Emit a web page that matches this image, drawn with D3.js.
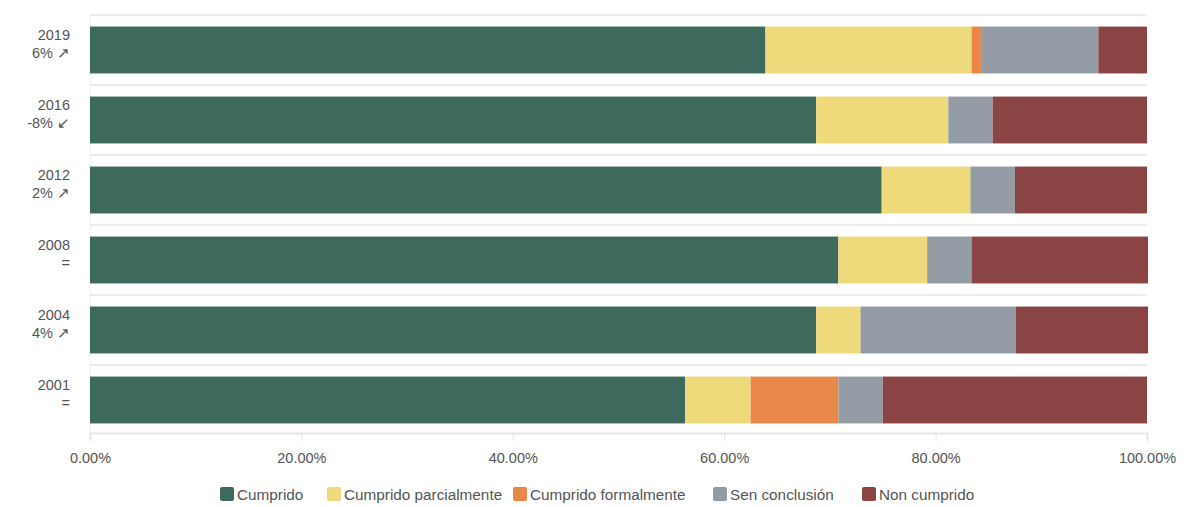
<!DOCTYPE html>
<html>
<head>
<meta charset="utf-8">
<script src="https://cdn.jsdelivr.net/npm/d3@7"></script>
<style>
  body { margin: 0; background: #fff; font-family: "Liberation Sans", Arial, sans-serif; }
  svg text { fill: #555; }
</style>
</head>
<body>
<figure id="bar" style="margin:0"></figure>
<script>
// data
const years = ["2019", "2016", "2012", "2008", "2004", "2001"];
const changes = ["6% \u2197", "-8% \u2199", "2% \u2197", "=", "4% \u2197", "="];
const seriesNames = ["Cumprido", "Cumprido parcialmente", "Cumprido formalmente", "Sen conclusión", "Non cumprido"];
const cumprido = [63.9, 68.7, 74.9, 70.8, 68.7, 56.3];
const parcialmente = [19.5, 12.5, 8.4, 8.4, 4.2, 6.2];
const formalmente = [0.9, 0, 0, 0, 0, 8.3];
const senConclusion = [11.1, 4.2, 4.2, 4.2, 14.7, 4.2];
const nonCumprido = [4.6, 14.6, 12.5, 16.7, 12.5, 25.0];
const xTicks = [0, 20, 40, 60, 80, 100];
const colors = ["#3d6a5d", "#eeda7b", "#e9874b", "#939ca5", "#8a4444"];

const width = 1201, height = 507;
const plotLeft = 90, plotRight = 1147, plotTop = 15, plotBottom = 435;

const rows = years.map((y, i) => ({
  year: y,
  "Cumprido": cumprido[i],
  "Cumprido parcialmente": parcialmente[i],
  "Cumprido formalmente": formalmente[i],
  "Sen conclusión": senConclusion[i],
  "Non cumprido": nonCumprido[i]
}));

const svg = d3.select("figure#bar").append("svg")
  .attr("width", width).attr("height", height);

const x = d3.scaleLinear().domain([0, 100]).range([plotLeft, plotRight]);
const y = d3.scaleBand().domain(years).range([plotTop, plotBottom])
  .paddingInner(0.33).paddingOuter(0.165);
const gap = (y.step() - y.bandwidth()) / 2;

// row separators
svg.append("g").selectAll("line")
  .data(years)
  .enter().append("line")
  .attr("x1", plotLeft).attr("x2", plotRight)
  .attr("y1", d => y(d) - gap).attr("y2", d => y(d) - gap)
  .attr("stroke", "#ececec").attr("stroke-width", 2);

// left line
svg.append("line")
  .attr("x1", plotLeft).attr("x2", plotLeft)
  .attr("y1", plotTop - 2).attr("y2", plotBottom)
  .attr("stroke", "#eee");

// stacked bars
const stack = d3.stack().keys(seriesNames)(rows);
svg.append("g").selectAll("g")
  .data(stack)
  .enter().append("g")
  .attr("fill", (d, i) => colors[i])
  .selectAll("rect")
  .data(d => d)
  .enter().append("rect")
  .attr("x", d => x(d[0]))
  .attr("y", d => y(d.data.year))
  .attr("width", d => x(d[1]) - x(d[0]))
  .attr("height", y.bandwidth());

// x axis
const xAxis = svg.append("g")
  .attr("transform", "translate(0," + (plotBottom - 2) + ")")
  .call(d3.axisBottom(x).tickValues(xTicks).tickSize(8).tickPadding(12)
    .tickFormat(d => d.toFixed(2) + "%"));
xAxis.select(".domain").attr("stroke", "#e6e6e6").attr("stroke-width", 2);
xAxis.selectAll(".tick line").attr("stroke", "#e3e3e3");
xAxis.selectAll("text").style("font-size", "14.5px").style("fill", "#555")
  .style("font-family", "'Liberation Sans', Arial, sans-serif");

// y labels
const yl = svg.append("g").selectAll("text")
  .data(years)
  .enter().append("text")
  .attr("text-anchor", "end")
  .attr("x", 70)
  .attr("y", d => y(d) + 13)
  .style("font-size", "14.5px");
yl.append("tspan").attr("x", 70).attr("dy", 0).text(d => d);
yl.append("tspan").attr("x", 70).attr("dy", 18).text((d, i) => changes[i]);

// legend
const legendX = [220, 327, 513, 713, 862];
const legend = svg.append("g").selectAll("g")
  .data(seriesNames)
  .enter().append("g")
  .attr("transform", (d, i) => "translate(" + legendX[i] + ",487)");
legend.append("rect")
  .attr("width", 14).attr("height", 14).attr("rx", 2)
  .attr("fill", (d, i) => colors[i]);
legend.append("text")
  .attr("x", 17).attr("y", 13)
  .style("font-size", "15.3px").style("fill", "#555")
  .text(d => d);
</script>
</body>
</html>
